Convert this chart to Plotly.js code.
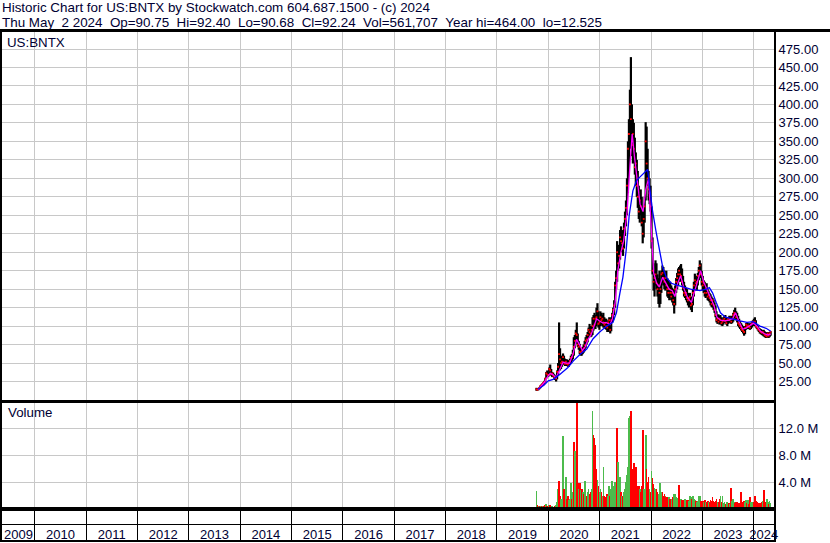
<!DOCTYPE html>
<html>
<head>
<meta charset="utf-8">
<script src="https://cdn.plot.ly/plotly-3.0.1.min.js"></script>
<style>
html,body{margin:0;padding:0;background:#fff;}
#chart{width:830px;height:543px;}
</style>
</head>
<body>
<div id="chart"></div>
<script>
// ---------- DATA (weekly bars, first week starting 2019-10-07) ----------
const firstWeekStart = '2019-10-07';

const weekHigh = [
  16.5,15.5,16.0,17.2, 19.5,21.0,22.5,24.0, 26,30,38,40,37,
  44,48,42,38, 37,35,33,33, 40,50,105,70,60, 56,63,60,56, 55,55,54,52, 56,60,62,68,85,
  88,95,105,90, 80,76,70,70,72, 75,80,85,88, 92,98,103,100, 100,112,115,118,115, 125,131,120,110,
  120,118,115,118, 112,110,110,106, 108,112,110,112,118, 125,135,160,175, 215,210,200,230,235, 230,225,240,255,
  270,300,350,380, 420,464,400,380,375, 355,335,325,310, 290,280,285,275, 260,255,275,376,370, 340,310,300,290,
  262,220,185,175,189, 185,170,165,175, 160,175,182,180, 175,170,175,165, 162,158,160,155,152, 150,140,155,165,
  172,178,180,182, 184,178,168,160,155, 152,150,145,142, 145,140,135,150,160, 171,168,165,172, 180,189,185,175,
  168,162,160,155,158, 150,148,145,143, 140,138,136,132, 128,120,115,116, 114,115,112,110,112, 114,115,112,110,
  112,114,113,114,112, 118,122,125,120, 118,114,110,107, 104,102,100,97,100, 104,105,103,104, 103,104,106,108,
  110,112,108,103,100, 98,97,96,95, 94,95,93,92, 91,92,91,92,93
];
const weekLow = [
  12.5,12.8,13.2,14.6, 16.0,18.0,19.0,20.5, 22,24,29,33,31,
  33,38,33,31, 31,29,27,25, 28,34,45,40,42, 45,48,48,46, 46,47,45,45, 48,50,53,55,60,
  70,76,82,72, 68,62,60,60,62, 64,66,70,75, 78,84,88,85, 86,88,94,98,96, 100,105,98,95,
  100,102,100,98, 98,96,95,92, 92,95,90,93,105, 108,115,125,150, 160,175,178,190,200, 205,195,205,222,
  235,250,280,310, 340,350,330,320,330, 305,290,275,260, 245,240,250,235, 212,220,240,270,300, 290,270,265,255,
  205,170,148,140,155, 150,140,130,125, 130,145,158,155, 150,148,150,140, 138,135,138,135,132, 128,117,128,145,
  150,155,160,162, 160,155,148,140,138, 135,132,128,125, 128,122,119,128,140, 148,150,148,155, 162,170,165,155,
  148,145,140,138,140, 135,134,132,128, 126,125,122,118, 112,105,103,104, 102,103,101,100,102, 104,105,102,100,
  103,105,104,103,104, 106,110,112,108, 105,100,98,96, 94,92,90,87,89, 95,97,96,96, 95,96,98,100,
  100,102,98,96,94, 92,90,89,88, 87,86,85,84, 84,85,84,85,87
];
const weekClose = [
  14.5,13.8,15.2,16.5, 18.8,19.8,21.2,23.0, 24.5,29,36,34.5,34,
  42,40,35,36, 33,31,30,29, 38,45,62,55,50, 52,58,51,49, 52,49,48,50, 53,57,58,62,72,
  80,90,88,75, 72,65,64,66,68, 70,74,80,82, 88,95,92,90, 95,100,110,102,110, 112,120,103,105,
  112,108,110,105, 102,104,100,98, 105,108,95,108,115, 122,128,155,165, 200,185,195,220,215, 212,205,232,245,
  260,290,340,360, 400,380,345,360,340, 315,320,290,275, 255,270,262,240, 225,245,262,350,320, 300,285,280,262,
  215,175,160,165,170, 158,150,155,145, 150,170,172,165, 160,165,155,150, 145,150,145,140,145, 135,130,150,160,
  165,170,175,170, 168,160,152,145,142, 145,138,135,138, 140,128,130,145,155, 162,158,160,168, 175,182,170,160,
  155,158,145,150,145, 140,142,138,135, 130,135,128,122, 115,108,110,106, 110,108,104,106,108, 110,107,104,108,
  110,108,110,106,110, 115,118,116,112, 108,104,102,100, 97,95,94,92,98, 102,100,101,99, 98,102,104,106,
  105,106,100,98,96, 95,93,92,91, 92,90,88,87, 86,90,87,90,92.24
];
const weekVolumeM = [
  2.7,0.6,0.4,0.4, 0.5,0.4,0.3,0.4, 0.4,0.6,0.8,0.5,0.4,
  0.6,0.6,0.5,0.4, 0.3,0.3,0.4,0.6, 1.0,3.0,4.2,2.0,1.5, 1.2,10.9,3.0,2.0, 4.7,1.5,2.0,1.3, 1.5,3.9,1.5,2.5,10.0,
  8.6,6.2,16.2,3.9, 3.0,3.9,2.8,3.0,2.5, 2.2,4.2,2.5,2.0, 2.5,3.0,2.2,2.5, 3.0,14.6,11.1,10.6,9.5, 6.0,4.3,3.5,2.5,
  3.0,2.5,2.0,6.3, 2.0,1.8,1.5,2.3, 2.0,3.4,2.0,3.0,4.2, 3.5,3.0,4.0,4.0, 12.1,7.0,2.5,4.7,2.5, 2.0,2.0,2.5,3.0,
  4.0,5.0,6.3,13.6, 13.9,14.6,4.0,6.0,6.8, 5.8,6.2,3.0,3.5, 3.5,3.0,2.5,3.5, 11.8,3.0,2.5,11.1,6.0, 4.0,4.7,3.0,2.5,
  5.7,4.6,3.7,3.2,3.0, 3.0,2.5,2.2,3.9, 3.9,2.5,2.5,2.0, 2.2,2.0,1.8,1.8, 1.6,1.8,1.5,1.4,1.5, 1.8,2.3,2.3,1.8,
  1.6,1.5,3.6,1.5, 1.5,1.4,1.3,1.3,1.5, 1.4,1.3,1.4,1.2, 2.0,1.8,1.5,1.9,1.5, 1.3,1.2,1.0,1.2, 1.9,1.9,1.2,1.0,
  1.2,1.0,1.3,1.0,1.1, 1.2,1.0,1.0,1.3, 1.2,1.8,1.2,1.0, 1.2,1.5,1.0,1.0, 1.5,2.0,1.0,2.0,0.9, 1.0,0.8,0.9,1.0,
  0.9,0.9,0.8,3.1,1.2, 1.5,1.0,0.9,1.0, 1.0,0.9,0.8,0.9, 2.5,1.0,1.0,1.2,1.0, 1.3,0.9,1.3,0.8, 1.8,1.0,1.0,0.7,
  1.0,1.9,1.2,1.0,0.8, 0.9,0.8,0.9,1.0, 1.2,2.9,1.0,0.8, 1.5,1.0,0.8,1.2,0.9
];
const weekUp = [
  1,0,1,0, 1,0,0,1, 0,0,1,0,0,
  1,0,0,1, 0,0,0,1, 1,1,0,0,1, 1,1,0,0, 1,0,0,1, 1,1,0,1,0,
  1,1,0,0, 1,0,1,0,1, 0,1,1,0, 1,1,0,0, 1,1,0,0,0, 0,1,0,1,
  1,0,1,1, 0,0,0,0, 1,1,0,1,1, 1,1,1,1, 0,1,1,1,0, 1,0,1,1,
  1,1,1,1, 1,0,0,0,0, 0,0,0,0, 0,1,0,0, 0,1,1,1,0, 0,0,1,0,
  1,0,0,1,1, 0,0,1,1, 1,1,0,0, 0,1,0,0, 0,1,0,0,1, 0,1,1,1,
  1,1,0,0, 1,0,0,0,1, 1,0,0,1, 1,1,0,1,1, 1,0,1,1, 1,1,0,0,
  0,1,0,1,0, 0,1,0,0, 0,0,0,0, 0,0,1,0, 0,1,0,1,1, 1,0,0,1,
  1,0,1,0,1, 1,1,0,0, 0,0,0,0, 0,0,0,0,1, 1,0,1,0, 0,1,1,1,
  0,0,0,0,0, 0,0,0,0, 1,0,0,0, 1,1,0,1,1
];

// short moving average (magenta)
const maShortDates = [
  '2019-10-20','2019-11-15','2019-12-05','2019-12-25','2020-01-15','2020-02-05','2020-02-25','2020-03-20',
  '2020-04-15','2020-05-10','2020-06-01','2020-06-25','2020-07-20','2020-08-10','2020-08-31','2020-09-20',
  '2020-10-10','2020-10-31','2020-11-20','2020-12-10','2020-12-31','2021-01-25','2021-02-15','2021-03-15',
  '2021-04-01','2021-04-20','2021-05-10','2021-06-01','2021-06-20','2021-07-15','2021-08-05','2021-08-20',
  '2021-09-05','2021-09-25','2021-10-15','2021-11-05','2021-11-25','2021-12-15','2022-01-05','2022-01-20',
  '2022-02-10','2022-03-01','2022-03-25','2022-04-15','2022-05-10','2022-06-01','2022-06-20','2022-07-10',
  '2022-07-31','2022-08-25','2022-09-20','2022-10-15','2022-11-05','2022-11-30','2022-12-20','2023-01-10',
  '2023-02-05','2023-03-01','2023-03-25','2023-04-15','2023-05-10','2023-06-10','2023-07-10','2023-08-05',
  '2023-08-25','2023-09-20','2023-10-15','2023-11-05','2023-12-01','2024-01-01','2024-01-25','2024-02-20',
  '2024-03-15','2024-04-10','2024-05-02'
];
const maShortValues = [
  14,19,24,31,36,34,30,40,
  51,50,50,62,82,75,67,72,
  82,88,100,110,107,104,105,102,
  110,130,175,200,215,255,320,360,
  330,300,265,255,285,300,220,172,
  158,153,166,158,150,148,140,158,
  168,150,138,132,145,162,175,160,
  148,137,128,112,108,107,108,110,
  118,106,96,97,100,104,100,93,
  90,88,89
];

// long moving average (blue)
const maLongDates = [
  '2019-10-20','2019-12-01','2020-01-01','2020-02-05','2020-03-25','2020-05-20','2020-06-28','2020-08-15',
  '2020-10-01','2020-11-15','2021-01-01','2021-02-20','2021-04-05','2021-04-30','2021-05-25','2021-06-15',
  '2021-07-08','2021-07-30','2021-08-25','2021-09-20','2021-10-15','2021-11-05','2021-11-25','2021-12-08',
  '2021-12-20','2022-01-12','2022-02-05','2022-03-01','2022-03-25','2022-04-20','2022-05-25','2022-07-10',
  '2022-08-20','2022-10-10','2022-12-15','2023-01-30','2023-02-20','2023-03-15','2023-04-10','2023-05-10',
  '2023-06-15','2023-08-10','2023-09-25','2023-11-15','2023-12-28','2024-02-15','2024-03-30','2024-05-02'
];
const maLongValues = [
  14.5,20,26,28,35,44,53,62,
  69,83,92,100,105,118,145,166,
  202,250,283,297,302,306,310,312,
  292,256,229,205,180,166,158,155,
  153,150,148,150,152,145,132,118,
  112,109,107,105,106,100,97,93
];

const yearLabels = ['2009','2010','2011','2012','2013','2014','2015','2016',
                    '2017','2018','2019','2020','2021','2022','2023','2024'];
const priceTicks = [25,50,75,100,125,150,175,200,225,250,275,300,325,350,375,400,425,450,475];
const volumeTicksM = [4,8,12];

// ---------- BUILD ----------
const DAY = 86400000;
const startMs = Date.parse(firstWeekStart + 'T00:00:00Z');
const iso = ms => new Date(ms).toISOString().slice(0, 10);
const weekDates = weekHigh.map((_, i) => iso(startMs + (7 * i + 2) * DAY));

const rangeStart = '2009-05-12';
const rangeEnd = '2024-05-25';

const barX = [], barY = [];
weekDates.forEach((d, i) => { barX.push(d, d, null); barY.push(weekLow[i], weekHigh[i], null); });

const yearBounds = yearLabels.slice(1).map(y => y + '-01-01');
const rs = Date.parse(rangeStart + 'T00:00:00Z'), re = Date.parse(rangeEnd + 'T00:00:00Z');
const labelPos = yearLabels.map(y => {
  const a = Math.max(Date.parse(y + '-01-01T00:00:00Z'), rs);
  const b = Math.min(Date.parse((+y + 1) + '-01-01T00:00:00Z'), re);
  return iso((a + b) / 2);
});

const FONT = 'Liberation Sans, Arial, sans-serif';
const TXT = '#000033';
const GRID = '#c8c8c8';

const traces = [
  { type: 'scatter', mode: 'lines', x: barX, y: barY, xaxis: 'x', yaxis: 'y',
    line: { color: '#000000', width: 2.2 }, hoverinfo: 'skip' },
  { type: 'scatter', mode: 'markers', x: weekDates, y: weekClose, xaxis: 'x', yaxis: 'y',
    marker: { color: '#ff0000', size: 1.8, symbol: 'square' }, hoverinfo: 'skip' },
  { type: 'scatter', mode: 'lines', x: maShortDates, y: maShortValues, xaxis: 'x', yaxis: 'y',
    line: { color: '#ff00ff', width: 1.3 }, hoverinfo: 'skip' },
  { type: 'scatter', mode: 'lines', x: maLongDates, y: maLongValues, xaxis: 'x', yaxis: 'y',
    line: { color: '#0000ff', width: 1.3 }, hoverinfo: 'skip' },
  { type: 'bar', x: weekDates, y: weekVolumeM.map(v => v * 1e6), xaxis: 'x2', yaxis: 'y2',
    width: 12 * DAY,
    marker: { color: weekUp.map(u => u ? '#4cbb4c' : '#ff0000'), line: { width: 0 } },
    hoverinfo: 'skip' },
  // empty holder so that the year-label strip (x3/y3) is drawn
  { type: 'scatter', mode: 'markers', x: labelPos, y: labelPos.map(() => null), xaxis: 'x3', yaxis: 'y3',
    marker: { opacity: 0 }, hoverinfo: 'skip' }
];

const px = v => v / 830;
const py = v => 1 - v / 543;

const layout = {
  width: 830, height: 543,
  margin: { l: 0, r: 0, t: 0, b: 0 },
  paper_bgcolor: '#ffffff', plot_bgcolor: '#ffffff',
  showlegend: false, hovermode: false, bargap: 0,
  font: { family: FONT, size: 13, color: TXT },
  xaxis: {
    type: 'date', domain: [px(2), px(774)], anchor: 'y', range: [rangeStart, rangeEnd],
    tickmode: 'array', tickvals: yearBounds, showticklabels: false, ticks: '',
    showgrid: true, gridcolor: GRID, gridwidth: 1, zeroline: false,
    showline: true, mirror: true, linecolor: '#000', linewidth: 1
  },
  yaxis: {
    domain: [py(400), py(32)], anchor: 'x', side: 'right', range: [0, 498],
    tickmode: 'array', tickvals: priceTicks, ticktext: priceTicks.map(v => v.toFixed(2)),
    ticks: '', showgrid: true, gridcolor: GRID, gridwidth: 1, zeroline: false,
    showline: true, mirror: true, linecolor: '#000', linewidth: 2,
    tickfont: { family: FONT, size: 13, color: TXT }
  },
  xaxis2: {
    type: 'date', domain: [px(2), px(774)], anchor: 'y2', matches: 'x', range: [rangeStart, rangeEnd],
    tickmode: 'array', tickvals: yearBounds, showticklabels: false, ticks: '',
    showgrid: true, gridcolor: GRID, gridwidth: 1, zeroline: false,
    showline: true, mirror: true, linecolor: '#000', linewidth: 2
  },
  yaxis2: {
    domain: [py(509), py(403)], anchor: 'x2', side: 'right', range: [0, 15.8e6],
    tickmode: 'array', tickvals: volumeTicksM.map(v => v * 1e6), ticktext: volumeTicksM.map(v => v.toFixed(1) + ' M'),
    ticks: '', showgrid: true, gridcolor: GRID, gridwidth: 1, zeroline: false,
    showline: true, mirror: true, linecolor: '#000', linewidth: 2,
    tickfont: { family: FONT, size: 13, color: TXT }
  },
  xaxis3: {
    type: 'date', domain: [px(2), px(774)], anchor: 'y3', matches: 'x', range: [rangeStart, rangeEnd],
    tickmode: 'array', tickvals: labelPos, ticktext: yearLabels, ticks: '',
    ticklabelstandoff: -19,
    showgrid: false, zeroline: false,
    minor: { tickmode: 'array', tickvals: yearBounds, showgrid: true, gridcolor: '#000', gridwidth: 1, ticks: '' },
    showline: true, mirror: true, linecolor: '#000', linewidth: 2,
    tickfont: { family: FONT, size: 13, color: TXT }
  },
  yaxis3: {
    domain: [py(540), py(509)], anchor: 'x3', range: [0, 2],
    tickmode: 'array', tickvals: [1], showticklabels: false, ticks: '',
    showgrid: true, gridcolor: '#000', gridwidth: 1, zeroline: false,
    showline: true, mirror: true, linecolor: '#000', linewidth: 2
  },
  shapes: [
    { type: 'line', xref: 'paper', yref: 'paper', x0: 0, x1: 1, y0: py(30.5), y1: py(30.5),
      line: { color: '#000', width: 3 } }
  ],
  annotations: [
    { xref: 'paper', yref: 'paper', x: px(0), y: py(8), xanchor: 'left', yanchor: 'middle', showarrow: false,
      text: 'Historic Chart for US:BNTX by Stockwatch.com 604.687.1500 - (c) 2024',
      font: { family: FONT, size: 13.4, color: TXT } },
    { xref: 'paper', yref: 'paper', x: px(0), y: py(22), xanchor: 'left', yanchor: 'middle', showarrow: false,
      text: 'Thu May&nbsp;&nbsp;2 2024&nbsp;&nbsp;Op=90.75&nbsp;&nbsp;Hi=92.40&nbsp;&nbsp;Lo=90.68&nbsp;&nbsp;Cl=92.24&nbsp;&nbsp;Vol=561,707&nbsp;&nbsp;Year hi=464.00&nbsp;&nbsp;lo=12.525',
      font: { family: FONT, size: 13.4, color: TXT } },
    { xref: 'paper', yref: 'paper', x: px(5), y: py(42), xanchor: 'left', yanchor: 'middle', showarrow: false,
      text: 'US:BNTX', font: { family: FONT, size: 13.3, color: TXT } },
    { xref: 'paper', yref: 'paper', x: px(6), y: py(413), xanchor: 'left', yanchor: 'middle', showarrow: false,
      text: 'Volume', font: { family: FONT, size: 13.3, color: TXT } }
  ]
};

Plotly.newPlot('chart', traces, layout, { staticPlot: true, displayModeBar: false });
</script>
</body>
</html>
